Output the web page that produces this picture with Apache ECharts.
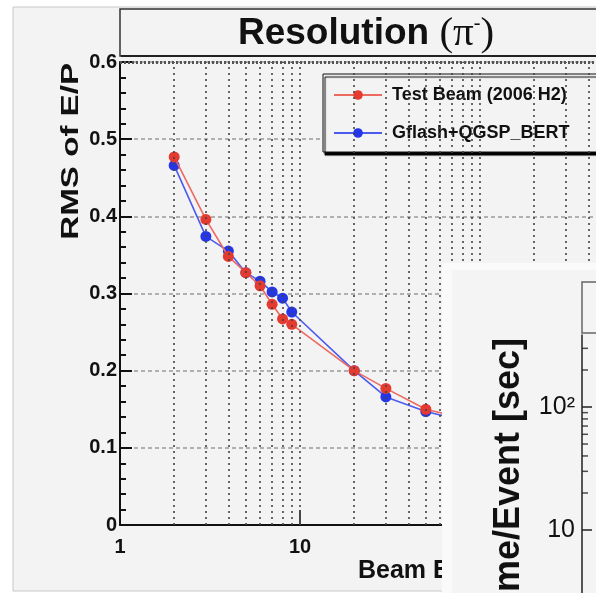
<!DOCTYPE html>
<html>
<head>
<meta charset="utf-8">
<title>Resolution (π-)</title>
<script src="https://cdn.jsdelivr.net/npm/echarts@6/dist/echarts.min.js"></script>
<style>
  html, body { margin: 0; padding: 0; background: #fff; }
  #chart { width: 596px; height: 593px; }
</style>
</head>
<body>
<div id="chart"></div>
<script>
// beam energy [GeV] and RMS of E/P
const beamEnergy = [2, 3, 4, 5, 6, 7, 8, 9, 20, 30, 50, 100]
const testBeamRms = [0.477, 0.396, 0.348, 0.327, 0.310, 0.286, 0.267, 0.260, 0.200, 0.177, 0.150, 0.133]
const gflashRms = [0.466, 0.374, 0.355, 0.327, 0.316, 0.302, 0.294, 0.276, 0.200, 0.166, 0.147, 0.130]

// dotted vertical grid of the log x axis
const gridEnergies = [2, 3, 4, 5, 6, 7, 8, 9, 10, 20, 30, 40, 50, 60, 70, 80, 90, 100, 200, 300, 400, 500, 600, 700, 800, 900]
// minor ticks on the half-hidden timing plot (log axis)
const insetMinorTicks = [20, 30, 40, 50, 60, 70, 80, 90, 200, 300]

const FONT = 'Liberation Sans, Arial, Helvetica, sans-serif'
const SERIF = 'Liberation Serif, DejaVu Serif, serif'
const INK = '#111'

const chart = echarts.init(document.getElementById('chart'))

const pairs = (xs, ys) => xs.map((x, i) => [x, ys[i]])

const isPow10 = v => {
  const n = Math.round(Math.log10(v))
  return Math.abs(v - Math.pow(10, n)) < 1e-6 * v
}

chart.setOption({
  backgroundColor: '#ffffff',
  animation: false,
  graphic: {
    elements: [
      // slide panel
      { type: 'rect', z: -20, shape: { x: 13, y: 7, width: 600, height: 584 },
        style: { fill: '#f3f3f3', stroke: '#c8c8c8', lineWidth: 1 } },
      // title box
      { type: 'rect', z: -10, shape: { x: 120, y: 9, width: 500, height: 47 },
        style: { fill: '#f3f3f3', stroke: '#333', lineWidth: 1.5 } },
      { type: 'rect', z: -10, shape: { x: 121, y: 55, width: 500, height: 2 },
        style: { fill: '#222' } },
      { type: 'text', z: -5, x: 366, y: 34,
        style: {
          text: '{a|Resolution }{b|(π}{c|-}{b|)}',
          align: 'center', verticalAlign: 'middle',
          rich: {
            a: { font: 'bold 37px ' + FONT, fill: INK, color: INK },
            b: { font: '41px ' + SERIF, fill: INK, color: INK },
            c: { font: '20px ' + SERIF, fill: INK, color: INK, padding: [0, 0, 20, 0] }
          }
        } },
      // y title
      { type: 'text', z: 1, x: 71, y: 63, rotation: Math.PI / 2, scaleX: 1.38,
        style: { text: 'RMS of E/P', font: 'bold 24px ' + FONT, fill: INK, align: 'right', verticalAlign: 'middle' } },
      // x title (cut by the overlapping panel)
      { type: 'text', z: 1, x: 358, y: 571,
        style: { text: 'Beam Energy [GeV]', font: 'bold 25px ' + FONT, fill: INK, align: 'left', verticalAlign: 'middle' } },

      // overlapping second panel
      { type: 'rect', z: 50, shape: { x: 442, y: 263, width: 200, height: 400 },
        style: { fill: '#fafafa' } },
      { type: 'rect', z: 51, shape: { x: 452, y: 270, width: 200, height: 400 },
        style: { fill: '#f4f4f4' } },
      { type: 'rect', z: 52, shape: { x: 582, y: 282, width: 40, height: 51 },
        style: { fill: '#f4f4f4', stroke: '#666', lineWidth: 1.5 } },
      { type: 'text', z: 55, x: 509, y: 338, rotation: Math.PI / 2,
        style: { text: 'Time/Event [sec]', font: 'bold 36px ' + FONT, fill: INK, align: 'right', verticalAlign: 'middle' } }
    ]
  },
  legend: {
    left: 323,
    top: 74,
    orient: 'vertical',
    data: ['Test Beam (2006 H2)', 'Gflash+QGSP_BERT'],
    padding: [11, 40, 9, 10],
    itemGap: 18,
    itemWidth: 48,
    itemHeight: 12,
    backgroundColor: '#f3f3f3',
    borderColor: INK,
    borderWidth: 1,
    borderRadius: 0,
    shadowColor: '#000',
    shadowBlur: 1,
    shadowOffsetX: 2,
    shadowOffsetY: 3,
    textStyle: { fontFamily: FONT, fontSize: 18, fontWeight: 'bold', color: INK, lineHeight: 20, padding: [0, 0, 0, 5] }
  },
  grid: [
    { left: 120, top: 62, width: 540, height: 463, outerBoundsMode: 'none', containLabel: false },
    { left: 582, top: 335, width: 200, height: 318, outerBoundsMode: 'none', containLabel: false }
  ],
  xAxis: [
    {
      type: 'log', gridIndex: 0, logBase: 10, min: 1, max: 1000,
      axisLine: { lineStyle: { color: INK, width: 2 } },
      axisTick: { inside: true, length: 15, lineStyle: { color: INK, width: 1.5 } },
      axisLabel: { color: INK, fontFamily: FONT, fontSize: 20, fontWeight: 'bold', margin: 12,
        formatter: v => String(Math.round(v)) },
      splitLine: { show: false }
    },
    { type: 'value', gridIndex: 1, min: 0, max: 1, show: false }
  ],
  yAxis: [
    {
      type: 'value', gridIndex: 0, min: 0, max: 0.6, interval: 0.1,
      axisLine: { show: true, lineStyle: { color: INK, width: 2 } },
      axisTick: { show: true, inside: true, length: 12, lineStyle: { color: INK, width: 2 } },
      minorTick: { show: true, splitNumber: 5, length: 6, lineStyle: { color: INK, width: 2 } },
      axisLabel: { color: INK, fontFamily: FONT, fontSize: 20, fontWeight: 'bold', margin: 3,
        formatter: v => (v === 0 ? '0' : v.toFixed(1)) },
      splitLine: { show: true, lineStyle: { color: '#9a9a9a', width: 1.5, type: [4, 3] } }
    },
    {
      type: 'log', gridIndex: 1, logBase: 10, min: 1, max: 385, z: 60,
      axisLine: { show: true, lineStyle: { color: '#222', width: 1.5 } },
      axisTick: { show: true, inside: true, length: 10, lineStyle: { color: '#222', width: 1.5 } },
      axisLabel: { color: INK, fontFamily: FONT, fontSize: 25, margin: 7, showMaxLabel: false,
        formatter: v => (isPow10(v) ? (Math.round(v) === 100 ? '10²' : String(Math.round(v))) : '') },
      splitLine: { show: false }
    }
  ],
  series: [
    {
      // frame grid of the main plot
      type: 'line', data: [], z: 1, silent: true,
      markLine: {
        silent: true, symbol: 'none', label: { show: false },
        lineStyle: { color: '#444', width: 1.6, type: [2, 4] },
        data: gridEnergies.map(e => ({ xAxis: e })).concat([
          { yAxis: 0.6, lineStyle: { color: '#555', width: 3, type: [2, 2] } }
        ])
      }
    },
    {
      name: 'Gflash+QGSP_BERT', type: 'line', z: 3,
      data: pairs(beamEnergy, gflashRms),
      symbol: 'circle', symbolSize: 11,
      lineStyle: { color: '#4a5cf0', width: 1.6 },
      itemStyle: { color: '#2436e6' }
    },
    {
      name: 'Test Beam (2006 H2)', type: 'line', z: 4,
      data: pairs(beamEnergy, testBeamRms),
      symbol: 'circle', symbolSize: 11,
      lineStyle: { color: '#ec6a5f', width: 1.6 },
      itemStyle: { color: '#e53a2f' }
    },
    {
      // minor ticks of the timing plot's log axis
      type: 'scatter', xAxisIndex: 1, yAxisIndex: 1, z: 60, silent: true,
      data: insetMinorTicks.map(v => [0, v]),
      symbol: 'rect', symbolSize: [6, 1.5], symbolOffset: [3, 0],
      itemStyle: { color: '#222' }
    }
  ]
})
</script>
</body>
</html>
